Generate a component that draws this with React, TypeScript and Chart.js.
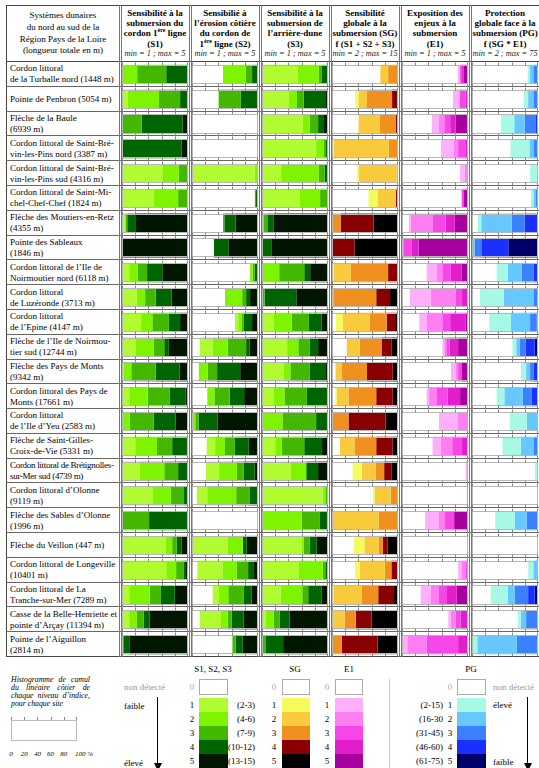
import React, { useEffect, useRef } from "react";
import { Chart, registerables } from "chart.js";
Chart.register(...registerables);

const FONT = '"Liberation Serif", "Times New Roman", serif';

// ---------- DATA ----------
const sites = [
  "Cordon littoral\nde la Turballe nord (1448 m)",
  "Pointe de Penbron (5054 m)",
  "Flèche de la Baule\n(6939 m)",
  "Cordon littoral de Saint-Bré-\nvin-les-Pins nord (3387 m)",
  "Cordon littoral de Saint-Bré-\nvin-les-Pins sud (4316 m)",
  "Cordon littoral de Saint-Mi-\nchel-Chef-Chef (1824 m)",
  "Flèche des Moutiers-en-Retz\n(4355 m)",
  "Pointe des Sableaux\n(1846 m)",
  "Cordon littoral de l’Ile de\nNoirmoutier nord (6118 m)",
  "Cordon littoral\nde Luzéronde (3713 m)",
  "Cordon littoral\nde l’Epine (4147 m)",
  "Flèche de l’Ile de Noirmou-\ntier sud (12744 m)",
  "Flèche des Pays de Monts\n(9342 m)",
  "Cordon littoral des Pays de\nMonts (17661 m)",
  "Cordon littoral\nde l’Ile d’Yeu (2583 m)",
  "Flèche de Saint-Gilles-\nCroix-de-Vie (5331 m)",
  "Cordon littoral de Brétignolles-\nsur-Mer sud (4739 m)",
  "Cordon littoral d’Olonne\n(9119 m)",
  "Flèche des Sables d’Olonne\n(1996 m)",
  "Flèche du Veillon (447 m)",
  "Cordon littoral de Longeville\n(10401 m)",
  "Cordon littoral de La\nTranche-sur-Mer (7289 m)",
  "Casse de la Belle-Henriette et\npointe d’Arçay (11394 m)",
  "Pointe de l’Aiguillon\n(2814 m)",
];

// share (%) of each level 0..5 for each site
const s1Levels = [
  [0, 0, 23, 44, 33, 0], [0, 9, 47, 32, 12, 0], [0, 0, 0, 30, 62, 8], [0, 0, 0, 0, 90, 10],
  [0, 61, 25, 14, 0, 0], [0, 48, 37, 15, 0, 0], [0, 4, 2, 2, 12, 80], [0, 0, 0, 0, 0, 100],
  [0, 11, 13, 14, 23, 39], [0, 22, 13, 16, 24, 25], [0, 29, 17, 25, 17, 12], [0, 21, 27, 16, 7, 29],
  [0, 3, 11, 37, 36, 13], [0, 11, 28, 33, 24, 4], [0, 0, 12, 36, 33, 19], [0, 20, 33, 23, 24, 0],
  [0, 27, 37, 21, 15, 0], [0, 47, 27, 20, 6, 0], [0, 0, 0, 41, 59, 0], [0, 66, 10, 7, 7, 10],
  [0, 67, 15, 11, 4, 3], [0, 11, 31, 17, 21, 20], [0, 11, 11, 11, 9, 58], [0, 0, 0, 3, 8, 89],
];
const s2Levels = [
  [47, 0, 34, 10, 9, 0], [40, 0, 0, 34, 26, 0], [100, 0, 0, 0, 0, 0], [100, 0, 0, 0, 0, 0],
  [0, 95, 5, 0, 0, 0], [95, 0, 0, 2, 3, 0], [47, 0, 0, 2, 17, 34], [33, 0, 0, 0, 22, 45],
  [88, 0, 4, 3, 5, 0], [50, 0, 26, 6, 6, 12], [65, 5, 5, 3, 13, 9], [12, 19, 23, 28, 5, 13],
  [10, 0, 14, 14, 35, 27], [23, 0, 11, 23, 22, 21], [0, 0, 5, 5, 29, 61], [22, 13, 15, 15, 21, 14],
  [21, 20, 27, 10, 17, 5], [7, 16, 44, 20, 13, 0], [100, 0, 0, 0, 0, 0], [0, 54, 23, 0, 6, 17],
  [8, 38, 22, 17, 9, 6], [31, 10, 14, 23, 12, 10], [12, 32, 10, 6, 18, 22], [61, 0, 0, 5, 11, 23],
];
const s3Levels = [
  [0, 54, 32, 4, 10, 0], [0, 41, 12, 10, 34, 3], [0, 62, 10, 13, 9, 6], [0, 82, 11, 4, 3, 0],
  [0, 29, 57, 9, 5, 0], [0, 57, 31, 12, 0, 0], [0, 0, 3, 5, 10, 82], [0, 0, 0, 0, 15, 85],
  [0, 0, 26, 38, 9, 27], [0, 0, 0, 4, 48, 48], [0, 18, 27, 26, 19, 10], [0, 38, 17, 17, 13, 15],
  [0, 33, 10, 29, 25, 3], [0, 18, 16, 34, 32, 0], [0, 0, 31, 51, 18, 0], [0, 20, 10, 34, 27, 9],
  [0, 44, 23, 0, 18, 15], [0, 92, 5, 3, 0, 0], [0, 0, 60, 27, 13, 0], [0, 60, 3, 9, 11, 17],
  [0, 56, 36, 4, 4, 0], [0, 28, 33, 9, 20, 10], [0, 6, 12, 9, 15, 58], [0, 0, 0, 6, 26, 68],
];
const sgLevels = [
  [73, 0, 12, 15, 0, 0], [35, 5, 13, 38, 9, 0], [40, 0, 32, 25, 3, 0], [2, 0, 84, 14, 0, 0],
  [38, 3, 57, 2, 0, 0], [55, 14, 28, 0, 3, 0], [0, 0, 0, 13, 50, 37], [0, 0, 0, 0, 34, 66],
  [0, 3, 25, 57, 15, 0], [0, 0, 2, 65, 21, 12], [6, 10, 41, 26, 14, 3], [22, 0, 20, 33, 15, 10],
  [5, 0, 10, 38, 39, 8], [5, 2, 18, 42, 25, 8], [0, 0, 0, 25, 56, 19], [12, 0, 22, 33, 25, 8],
  [31, 14, 21, 13, 11, 10], [62, 3, 24, 11, 0, 0], [0, 0, 71, 29, 0, 0], [33, 16, 22, 6, 7, 16],
  [35, 7, 38, 10, 10, 0], [0, 2, 43, 25, 24, 6], [0, 0, 19, 17, 24, 40], [0, 0, 0, 15, 54, 31],
];
const e1Levels = [
  [84, 4, 0, 3, 2, 7], [77, 10, 0, 9, 4, 0], [45, 11, 8, 9, 8, 19], [59, 19, 7, 12, 3, 0],
  [88, 7, 5, 0, 0, 0], [90, 0, 0, 4, 0, 6], [10, 3, 33, 20, 14, 20], [0, 0, 2, 13, 10, 75],
  [37, 16, 8, 13, 16, 10], [12, 32, 37, 10, 9, 0], [26, 11, 24, 12, 23, 4], [61, 3, 3, 5, 13, 15],
  [74, 7, 4, 5, 0, 10], [37, 4, 12, 16, 19, 12], [56, 28, 16, 0, 0, 0], [46, 13, 17, 15, 9, 0],
  [96, 2, 0, 2, 0, 0], [98, 0, 0, 0, 2, 0], [35, 21, 8, 15, 0, 21], [100, 0, 0, 0, 0, 0],
  [85, 5, 6, 4, 0, 0], [28, 15, 13, 11, 16, 17], [70, 4, 7, 8, 11, 0], [0, 8, 29, 48, 15, 0],
];
const pgLevels = [
  [84, 4, 5, 7, 0, 0], [78, 7, 8, 7, 0, 0], [44, 20, 16, 16, 4, 0], [58, 29, 6, 7, 0, 0],
  [88, 12, 0, 0, 0, 0], [89, 4, 4, 3, 0, 0], [9, 5, 46, 20, 20, 0], [0, 0, 4, 10, 41, 45],
  [37, 17, 21, 18, 7, 0], [12, 36, 45, 7, 0, 0], [26, 33, 29, 10, 2, 0], [61, 6, 5, 9, 14, 5],
  [74, 8, 6, 5, 7, 0], [37, 12, 28, 13, 10, 0], [57, 26, 17, 0, 0, 0], [46, 28, 19, 7, 0, 0],
  [95, 5, 0, 0, 0, 0], [100, 0, 0, 0, 0, 0], [35, 30, 18, 17, 0, 0], [100, 0, 0, 0, 0, 0],
  [85, 8, 7, 0, 0, 0], [28, 26, 11, 20, 10, 5], [69, 5, 8, 18, 0, 0], [0, 8, 60, 32, 0, 0],
];

const levels = [0, 1, 2, 3, 4, 5];
const axisTicks = [0, 20, 40, 60, 80, 100];
const axisTickLabels = ["0", "20", "40", "60", "80", "100 %"];
const sRanges = ["(2-3)", "(4-6)", "(7-9)", "(10-12)", "(13-15)"];
const pgRanges = ["(2-15)", "(16-30", "(31-45)", "(46-60)", "(61-75)"];

// ---------- STYLES ----------
const sColors = ["#ffffff", "#b0fc30", "#7ef400", "#42b800", "#006400", "#001600"];
const sgColors = ["#ffffff", "#f4fb5e", "#f9ca3c", "#f0901e", "#880000", "#000000"];
const e1Colors = ["#ffffff", "#ffb0fc", "#ff7ef2", "#f746e8", "#e01ecc", "#a8009e"];
const pgColors = ["#ffffff", "#a8f8e6", "#66c8ff", "#3a80ff", "#1a30ff", "#000068"];

const sup = (t: string) => (
  <sup style={{ fontSize: 6, lineHeight: 0, verticalAlign: "4px" }}>{t}</sup>
);

const columns = [
  { title: ["Sensibilité à la", "submersion du", <>cordon 1{sup("ère")} ligne</>, "(S1)"], range: "min = 1 ; max = 5", data: s1Levels, colors: sColors },
  { title: ["Sensibilié à", "l’érosion côtière", "du cordon de", <>1{sup("ère")}  ligne (S2)</>], range: "min = 1 ; max = 5", data: s2Levels, colors: sColors },
  { title: ["Sensibilité à la", "submersion de", "l’arrière-dune", "(S3)"], range: "min = 1 ; max = 5", data: s3Levels, colors: sColors },
  { title: ["Sensibilité", "globale à la", "submersion (SG)", "f (S1 + S2 + S3)"], range: "min = 2 ; max = 15", data: sgLevels, colors: sgColors },
  { title: ["Exposition des", "enjeux à la", "submersion", "(E1)"], range: "min = 1 ; max = 5", data: e1Levels, colors: e1Colors },
  { title: ["Protection", "globale face à la", "submersion (PG)", "f (SG * E1)"], range: "min = 2 ; max = 75", data: pgLevels, colors: pgColors },
];

// geometry
const TOP = 5;
const HEAD_B = 62;
const TABLE_B = 657;
const ROW_H = (TABLE_B - HEAD_B) / sites.length;
const TABLE_L = 6;
const COL0 = 121;
const COL_W = 70;

const cellFrame = {
  id: "cellFrame",
  afterDatasetsDraw(chart: any) {
    const { ctx } = chart;
    const xs = chart.scales.x;
    const x0 = Math.round(xs.getPixelForValue(0));
    const x1 = Math.round(xs.getPixelForValue(100));
    const meta = chart.getDatasetMeta(0);
    ctx.save();
    ctx.lineWidth = 1;
    meta.data.forEach((el: any) => {
      const { y, height } = el.getProps(["y", "height"], true);
      const top = Math.round(y - height / 2) + 0.5;
      const bot = Math.round(y + height / 2) - 0.5;
      ctx.strokeStyle = "#b8b8b8";
      ctx.strokeRect(x0 + 0.5, top, x1 - x0 - 1, bot - top);
      ctx.strokeStyle = "#888";
      ctx.beginPath();
      axisTicks.forEach((v) => {
        let px = Math.round(xs.getPixelForValue(v)) + 0.5;
        if (px > x1 - 0.5) px = x1 - 0.5;
        ctx.moveTo(px, top - 3);
        ctx.lineTo(px, top);
        ctx.moveTo(px, bot);
        ctx.lineTo(px, bot + 3);
      });
      ctx.stroke();
    });
    ctx.restore();
  },
};

function ColumnChart({ data, colors, left }: { data: number[][]; colors: string[]; left: number }) {
  const ref = useRef<HTMLCanvasElement>(null);
  useEffect(() => {
    if (!ref.current) return;
    const chart = new Chart(ref.current, {
      type: "bar",
      data: {
        labels: sites,
        datasets: levels.map((l) => ({
          label: "niveau " + l,
          data: data.map((r) => r[l]),
          backgroundColor: colors[l],
          borderWidth: 0,
          barPercentage: 0.77,
          categoryPercentage: 1,
        })),
      },
      options: {
        indexAxis: "y",
        animation: false,
        responsive: true,
        maintainAspectRatio: false,
        events: [],
        layout: { padding: { left: 1, right: 1, top: 0, bottom: 0 } },
        plugins: { legend: { display: false }, tooltip: { enabled: false } },
        scales: {
          x: { stacked: true, min: 0, max: 100, display: false },
          y: { stacked: true, display: false },
        },
      },
      plugins: [cellFrame],
    } as any);
    return () => chart.destroy();
  }, [data, colors]);
  return (
    <div style={{ position: "absolute", left, top: HEAD_B, width: 68, height: TABLE_B - HEAD_B }}>
      <canvas ref={ref} />
    </div>
  );
}

function Txt({ x, y, a = "l", size = 9, color = "#000", italic = false, children }: any) {
  const w = 140;
  const left = a === "l" ? x : a === "r" ? x - w : x - w / 2;
  return (
    <div
      style={{
        position: "absolute", left, top: y - 6, width: w, height: 12, lineHeight: "12px",
        textAlign: a === "l" ? "left" : a === "r" ? "right" : "center",
        fontSize: size, color, fontStyle: italic ? "italic" : "normal", whiteSpace: "nowrap",
      }}
    >
      {children}
    </div>
  );
}

function Arrow({ x, y1, y2 }: { x: number; y1: number; y2: number }) {
  return (
    <>
      <div style={{ position: "absolute", left: x, top: y1, width: 1, height: y2 - y1 - 5, background: "#000" }} />
      <div style={{ position: "absolute", left: x - 3.5, top: y2 - 7, width: 0, height: 0, borderLeft: "4px solid transparent", borderRight: "4px solid transparent", borderTop: "8px solid #000" }} />
    </>
  );
}

function LegendScale({ title, titleX, numX, boxX, boxW, colors, ranges, rangeX, numAlign }: any) {
  return (
    <>
      <Txt x={titleX} y={669} a="c">{title}</Txt>
      <Txt x={numX} y={687} a="c" color="#aaa">0</Txt>
      <div style={{ position: "absolute", left: boxX, top: 679, width: boxW - 2, height: 14, border: "1px solid #aaa", background: "#fff" }} />
      {levels.slice(1).map((l, i) => (
        <React.Fragment key={l}>
          <div style={{ position: "absolute", left: boxX, top: 698 + i * 14, width: boxW, height: 14, background: colors[l] }} />
          <Txt x={numX} y={705 + i * 14} a="c">{String(l)}</Txt>
          {ranges ? <Txt x={rangeX} y={705 + i * 14} a={numAlign || "r"}>{ranges[i]}</Txt> : null}
        </React.Fragment>
      ))}
    </>
  );
}

export default function App() {
  const colLeft = (c: number) => COL0 + COL_W * c;
  return (
    <div style={{ position: "fixed", left: 0, top: 0, width: 539, height: 768, overflow: "hidden", background: "#fff", fontFamily: FONT, color: "#000" }}>
      {/* table frame */}
      <div style={{ position: "absolute", left: TABLE_L, top: TOP, width: 600, height: TABLE_B - TOP, borderTop: "1px solid #444", borderLeft: "1px solid #444", borderBottom: "1px solid #444", boxSizing: "border-box" }} />
      <div style={{ position: "absolute", left: TABLE_L, top: HEAD_B - 1, width: 600, height: 1, background: "#444" }} />
      {sites.slice(1).map((_, i) => (
        <div key={i} style={{ position: "absolute", left: TABLE_L, top: Math.round(HEAD_B + (i + 1) * ROW_H) - 1, width: 600, height: 1, background: "#666" }} />
      ))}
      {columns.map((_, c) => (
        <div key={c} style={{ position: "absolute", left: colLeft(c) - 2, top: TOP, width: 0, height: TABLE_B - TOP, borderLeft: "3px double #777" }} />
      ))}

      {/* header */}
      <div style={{ position: "absolute", left: TABLE_L + 1, top: TOP, width: 112, height: HEAD_B - TOP, display: "flex", alignItems: "center", justifyContent: "center", textAlign: "center", fontSize: 9, lineHeight: "11.7px" }}>
        <div>Systèmes dunaires<br />du nord au sud de la<br />Région Pays de la Loire<br />(longueur totale en m)</div>
      </div>
      {columns.map((col, c) => (
        <div key={c} style={{ position: "absolute", left: colLeft(c), top: TOP + 1, width: 68, height: HEAD_B - TOP - 2, display: "flex", flexDirection: "column", alignItems: "center", justifyContent: "center", textAlign: "center", whiteSpace: "nowrap" }}>
          {col.title.map((t: any, i: number) => (
            <div key={i} style={{ fontSize: 9, fontWeight: "bold", lineHeight: "10.3px" }}>{t}</div>
          ))}
          <div style={{ fontSize: 8.3, fontStyle: "italic", lineHeight: "10.3px", color: "#222" }}>{col.range}</div>
        </div>
      ))}

      {/* row labels */}
      {sites.map((s, i) => (
        <div key={i} style={{ position: "absolute", left: 10, top: HEAD_B + i * ROW_H, width: 112, height: ROW_H, display: "flex", alignItems: "center", fontSize: 9, lineHeight: "11px", whiteSpace: "pre", letterSpacing: s.length > 45 && s.indexOf("Brétignolles") >= 0 ? "-0.3px" : "0px" }}>
          {s}
        </div>
      ))}

      {/* charts */}
      {columns.map((col, c) => (
        <ColumnChart key={c} data={col.data} colors={col.colors} left={colLeft(c)} />
      ))}

      {/* legend */}
      <div style={{ position: "absolute", left: 11, top: 676, width: 79, fontSize: 7.8, lineHeight: "8px", fontStyle: "italic", textAlign: "justify", textAlignLast: "left" as any }}>
        Histogramme de cumul du linéaire côtier de chaque niveau d’indice, pour chaque site
      </div>
      <div style={{ position: "absolute", left: 11, top: 720, width: 66, height: 21, border: "1px solid #bbb", boxSizing: "border-box" }} />
      {axisTicks.map((v, i) => (
        <React.Fragment key={v}>
          <div style={{ position: "absolute", left: Math.min(11 + (66 * v) / 100, 76), top: 717, width: 1, height: 3, background: "#888" }} />
          <Txt x={11 + (66 * v) / 100 + (i === 5 ? -2 : 0)} y={754} a={i === 5 ? "l" : "c"} size={7} italic>{axisTickLabels[i]}</Txt>
        </React.Fragment>
      ))}

      <Txt x={124} y={687} color="#999">non détecté</Txt>
      <Txt x={124} y={706}>faible</Txt>
      <Txt x={124} y={763}>élevé</Txt>
      <Arrow x={157} y1={697} y2={770} />

      <LegendScale title="S1, S2, S3" titleX={213} numX={192} boxX={199} boxW={29} colors={sColors} ranges={sRanges} rangeX={255} />
      <LegendScale title="SG" titleX={295} numX={274} boxX={282} boxW={28} colors={sgColors} />
      <LegendScale title="E1" titleX={349} numX={327} boxX={335} boxW={28} colors={e1Colors} />
      <div style={{ position: "absolute", left: 389, top: 679, width: 1, height: 90, background: "#ccc" }} />
      <LegendScale title="PG" titleX={471} numX={450} boxX={457} boxW={29} colors={pgColors} ranges={pgRanges} rangeX={443} />
      <Txt x={493} y={687} color="#999">non détecté</Txt>
      <Txt x={493} y={705}>élevé</Txt>
      <Txt x={493} y={762}>faible</Txt>
      <Arrow x={527} y1={697} y2={770} />
    </div>
  );
}
